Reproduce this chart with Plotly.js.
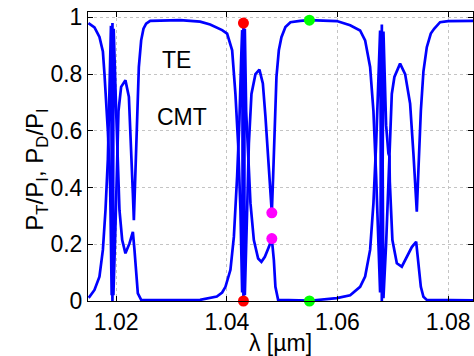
<!DOCTYPE html>
<html>
<head>
<meta charset="utf-8">
<script src="https://cdn.plot.ly/plotly-3.0.1.min.js"></script>
<style>html,body{margin:0;padding:0;background:#fff}#chart{width:474px;height:356px}</style>
</head>
<body>
<div id="chart"></div>
<script>
// Wavelength samples (µm) and normalized powers
const lambdaT = [1.01498,1.01607,1.01697,1.01759,1.01788,1.01818,1.01849,1.01891,1.01910,1.01918,1.01932,1.01949,1.01986,1.02012,1.02041,1.02089,1.02167,1.02229,1.02270,1.02301,1.02319,1.02342,1.02373,1.02409,1.02451,1.02493,1.02541,1.02614,1.03156,1.03517,1.03698,1.03819,1.03915,1.04005,1.04096,1.04155,1.04204,1.04246,1.04277,1.04300,1.04325,1.04367,1.04398,1.04445,1.04517,1.04589,1.04651,1.04698,1.04746,1.04788,1.04813,1.04837,1.04868,1.04897,1.04940,1.04987,1.05059,1.05150,1.05325,1.05493,1.05988,1.06229,1.06409,1.06500,1.06590,1.06650,1.06699,1.06740,1.06771,1.06802,1.06831,1.06879,1.06921,1.06982,1.07029,1.07132,1.07223,1.07313,1.07373,1.07422,1.07434,1.07463,1.07507,1.07554,1.07615,1.07687,1.07747,1.07855,1.08000,1.08470];
const PT = [0.980,0.965,0.931,0.88,0.80,0.70,0.60,0.40,0.10,0.02,0.98,0.02,0.26,0.50,0.67,0.755,0.778,0.72,0.556,0.38,0.285,0.44,0.67,0.825,0.919,0.96,0.978,0.988,0.990,0.985,0.975,0.965,0.955,0.943,0.884,0.73,0.555,0.32,0.03,0.98,0.02,0.32,0.555,0.73,0.80,0.816,0.767,0.65,0.50,0.367,0.311,0.44,0.64,0.79,0.884,0.93,0.966,0.983,0.988,0.990,0.987,0.972,0.954,0.919,0.825,0.67,0.44,0.20,0.03,0.975,0.01,0.20,0.44,0.73,0.79,0.837,0.80,0.696,0.52,0.367,0.315,0.46,0.67,0.81,0.895,0.943,0.96,0.983,0.987,0.988];

const lambdaD = [1.01498,1.01517,1.01607,1.01697,1.01759,1.01806,1.01849,1.01878,1.01896,1.01905,1.01932,1.01954,1.01999,1.02030,1.02059,1.02108,1.02167,1.02240,1.02301,1.02330,1.02361,1.02391,1.02451,1.02614,1.03517,1.03698,1.03819,1.03915,1.03975,1.04065,1.04127,1.04186,1.04228,1.04258,1.04277,1.04300,1.04325,1.04349,1.04385,1.04427,1.04488,1.04566,1.04625,1.04687,1.04759,1.04813,1.04850,1.04878,1.04927,1.05493,1.05988,1.06229,1.06409,1.06440,1.06500,1.06590,1.06650,1.06699,1.06740,1.06771,1.06802,1.06831,1.06879,1.06921,1.06939,1.06946,1.06993,1.07073,1.07163,1.07254,1.07344,1.07422,1.07463,1.07507,1.07554,1.07615,1.08470];
const PD = [0.012,0.015,0.039,0.086,0.18,0.32,0.50,0.73,0.93,0.97,0.0,0.96,0.67,0.46,0.32,0.215,0.168,0.203,0.244,0.18,0.086,0.027,0.004,0.003,0.004,0.010,0.016,0.03,0.05,0.11,0.226,0.44,0.64,0.85,0.955,0.0,0.96,0.67,0.50,0.345,0.215,0.15,0.138,0.156,0.19,0.22,0.144,0.05,0.004,0.001,0.01,0.02,0.05,0.062,0.086,0.18,0.344,0.555,0.79,0.954,0.0,0.95,0.62,0.52,0.51,0.42,0.215,0.133,0.121,0.156,0.19,0.209,0.133,0.05,0.015,0.004,0.002];

// Highlighted operating points
const markLambda = [1.04300,1.04300,1.04813,1.04813,1.05493,1.05493];
const markValue  = [0.98,0.0,0.311,0.22,0.99,0.0];
const markColor  = ['#ff0000','#ff0000','#ff00ff','#ff00ff','#00ff00','#00ff00'];

const xTicks = [1.02,1.04,1.06,1.08];
const xTickText = ['1.02','1.04','1.06','1.08'];
const yTicks = [0,0.2,0.4,0.6,0.8,1];
const yTickText = ['0','0.2','0.4','0.6','0.8','1'];

const labelText = ['TE','CMT'];
const labelLambda = [1.03096,1.03187];
const labelValue = [0.849,0.649];

const font = 'Liberation Sans, Arial, Helvetica, sans-serif';

const traces = [
  {x: lambdaT, y: PT, mode: 'lines', line: {color: '#0000ff', width: 2.7}, hoverinfo: 'skip'},
  {x: lambdaD, y: PD, mode: 'lines', line: {color: '#0000ff', width: 2.7}, hoverinfo: 'skip'},
  {x: markLambda, y: markValue, mode: 'markers', cliponaxis: false,
   marker: {color: markColor, size: 11, line: {width: 0}}, hoverinfo: 'skip'}
];

const axisCommon = {
  showline: true, linecolor: '#000', linewidth: 1, mirror: 'ticks',
  ticks: 'inside', ticklen: 5, tickcolor: '#000', tickwidth: 1,
  showgrid: true, gridcolor: '#c4c4c4', griddash: 'dot', gridwidth: 1,
  zeroline: false, tickfont: {family: font, size: 23, color: '#000'}
};

const annotations = labelText.map((t, i) => ({
  x: labelLambda[i], y: labelValue[i], xref: 'x', yref: 'y', text: t, showarrow: false,
  font: {family: font, size: 23, color: '#000'}
}));
annotations.push({
  x: -0.18, y: 0.455, xref: 'paper', yref: 'paper', showarrow: false, textangle: -90,
  text: 'P<sub>T</sub>/P<sub>I</sub>, P<sub>D</sub>/P<sub>I</sub>',
  font: {family: font, size: 24, color: '#000'}
});

const layout = {
  width: 474, height: 356,
  margin: {l: 88, r: 1, t: 12, b: 55},
  paper_bgcolor: '#fff', plot_bgcolor: '#fff',
  showlegend: false,
  xaxis: Object.assign({}, axisCommon, {
    range: [1.0149, 1.0845], tickvals: xTicks, ticktext: xTickText,
    title: {text: 'λ [µm]', font: {family: font, size: 23, color: '#000'}, standoff: 0}
  }),
  yaxis: Object.assign({}, axisCommon, {
    range: [0, 1.019], tickvals: yTicks, ticktext: yTickText
  }),
  annotations: annotations
};

Plotly.newPlot('chart', traces, layout, {staticPlot: true, displayModeBar: false});
</script>
</body>
</html>
